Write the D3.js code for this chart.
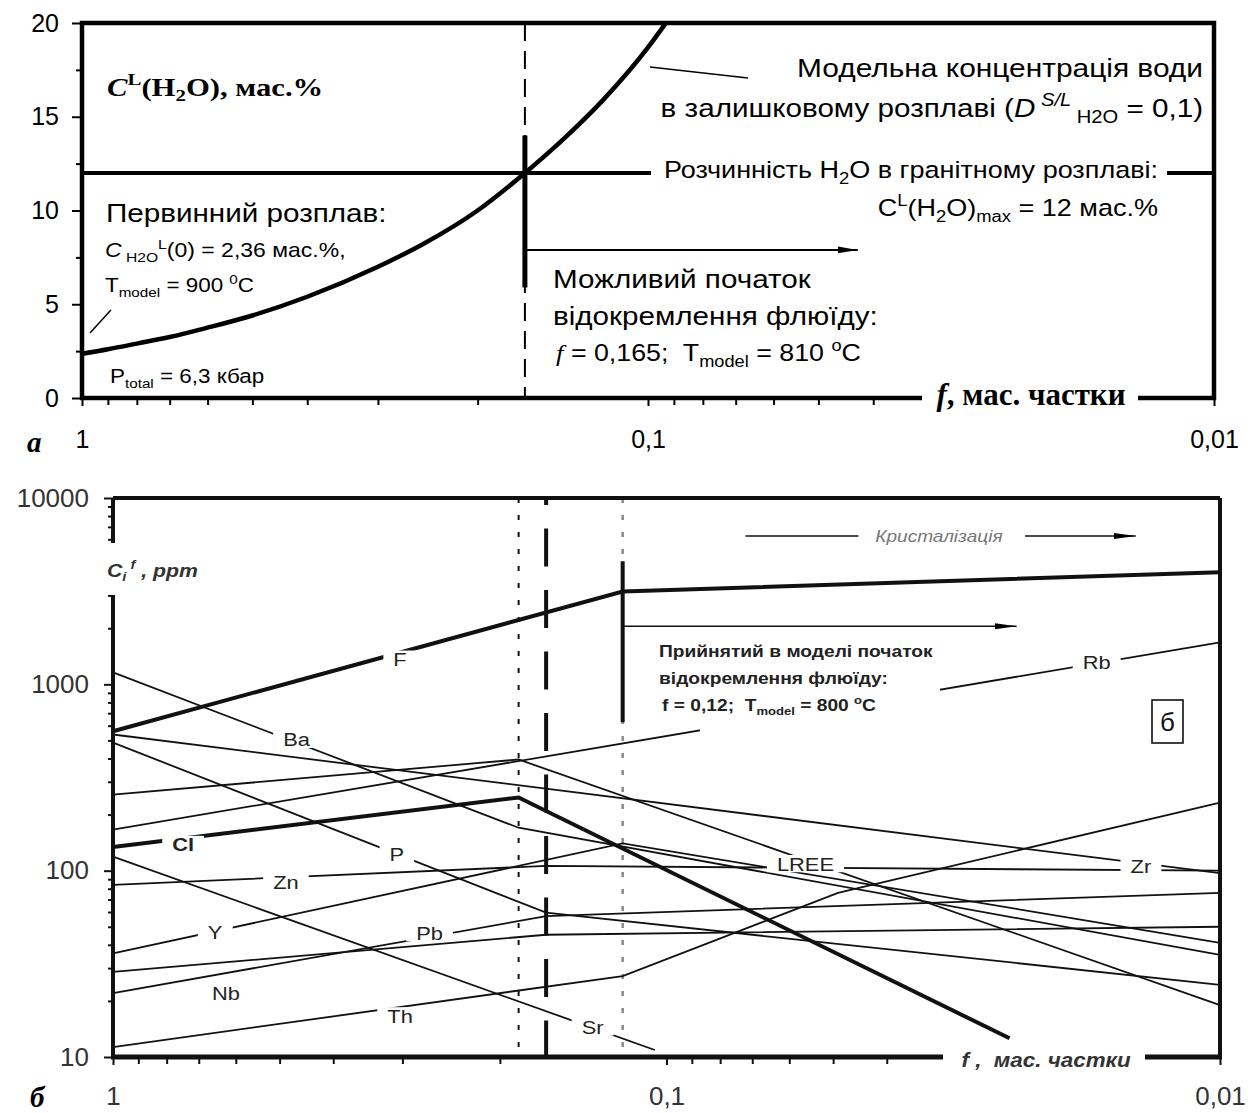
<!DOCTYPE html>
<html><head><meta charset="utf-8">
<script src="https://cdn.jsdelivr.net/npm/d3@7"></script>
<style>
body{margin:0;background:#fff;}
svg{display:block;}
text{white-space:pre;}
</style></head><body>
<svg id="chart" width="1254" height="1113"></svg>
<script>
// ---------- Panel а: water content of the residual melt ----------
const waterF = [1, 0.9, 0.8, 0.7, 0.6, 0.5, 0.4, 0.3, 0.25, 0.2, 0.165, 0.14, 0.12, 0.1, 0.093];
const waterC = [2.36, 2.6, 2.9, 3.25, 3.75, 4.4, 5.4, 7.0, 8.2, 10.0, 12.0, 13.9, 15.9, 18.7, 20.0];
const solubilityH2O = 12;
const onsetA = 0.165;
const waterTicks = [0, 5, 10, 15, 20];
const waterMinor = [2.5, 7.5, 12.5, 17.5];

// shared melt-fraction axis
const fMajor = [1, 0.1, 0.01];
const fLabels = ["1", "0,1", "0,01"];
const fMinor = [0.9, 0.8, 0.7, 0.6, 0.5, 0.4, 0.3, 0.2, 0.09, 0.08, 0.07, 0.06, 0.05, 0.04, 0.03, 0.02];

// ---------- Panel б: element concentrations in the fluid ----------
const lineF    = [[1, 560], [0.12, 3150], [0.01, 4000]];
const lineCl   = [[1, 134], [0.185, 247], [0.024, 12.6]];
const lineBa   = [[1, 1160], [0.185, 170], [0.01, 35.3]];
const lineZr   = [[1, 538], [0.01, 97]];
const lineP    = [[1, 487], [0.165, 59.5], [0.01, 24.4]];
const lineLREE = [[1, 256], [0.185, 395], [0.01, 19]];
const lineRb   = [[1, 166], [0.01, 1680]];
const lineSr   = [[1, 119], [0.105, 10.9]];
const lineZn   = [[1, 84], [0.165, 106], [0.01, 100]];
const lineY    = [[1, 36], [0.12, 140], [0.01, 41]];
const linePb   = [[1, 28.6], [0.165, 45.3], [0.01, 50]];
const lineNb   = [[1, 22], [0.165, 57], [0.01, 76]];
const lineTh   = [[1, 11.3], [0.12, 27.2], [0.049, 76], [0.01, 232]];

const elementNames = ["F", "Cl", "Ba", "Zr", "P", "LREE", "Rb", "Sr", "Zn", "Y", "Pb", "Nb", "Th"];
const elementLines = [lineF, lineCl, lineBa, lineZr, lineP, lineLREE, lineRb, lineSr, lineZn, lineY, linePb, lineNb, lineTh];
const thickElements = ["F", "Cl"];
// label anchors (f, ppm)
const labelText = ["F", "Ba", "Cl", "Zr", "P", "LREE", "Rb", "Sr", "Zn", "Y", "Pb", "Nb", "Th"];
const labelF = [0.303, 0.466, 0.747, 0.0139, 0.307, 0.0561, 0.0167, 0.136, 0.487, 0.654, 0.268, 0.625, 0.303];
const labelC = [1362, 506, 138, 106, 122, 109, 1312, 14.5, 87.3, 47, 46.4, 22, 16.6];

const ppmMajor = [10, 100, 1000, 10000];
const ppmLabels = ["10", "100", "1000", "10000"];
const ppmMinor = [20,30,40,50,60,70,80,90,200,300,400,500,600,700,800,900,2000,3000,4000,5000,6000,7000,8000,9000];
const fOnsetDotted = 0.185, fOnsetDashed = 0.165, fOnsetModel = 0.12;

const svg = d3.select("#chart");
const SANS = "'Liberation Sans', Arial, sans-serif";
const SERIF = "'Liberation Serif', 'Times New Roman', serif";

// text with sub/superscript runs, optionally widened horizontally
function rich(g, x, y, parts, o) {
  const sx = o.sx || 1;
  const t = g.append("text").attr("transform", `translate(${x},${y}) scale(${sx},1)`)
    .attr("font-family", o.family || SANS).attr("font-size", o.size)
    .attr("fill", o.fill || "#000").attr("text-anchor", o.anchor || "start")
    .attr("font-weight", o.weight || "normal").attr("font-style", o.style || "normal");
  parts.forEach(p => {
    const [s, kind] = typeof p === "string" ? [p, ""] : p;
    const k = kind.split(" ");
    const ts = t.append("tspan").text(s);
    if (k.includes("sub")) ts.attr("baseline-shift", -0.22 * o.size).attr("font-size", o.size * 0.68);
    if (k.includes("sup")) ts.attr("baseline-shift", 0.42 * o.size).attr("font-size", o.size * 0.68);
    if (k.includes("i")) ts.attr("font-style", "italic");
    if (k.includes("serif")) ts.attr("font-family", SERIF);
  });
  return t;
}

const defs = svg.append("defs");
defs.append("marker").attr("id", "arrowA").attr("viewBox", "0 0 20 10")
  .attr("refX", 20).attr("refY", 5).attr("markerWidth", 20).attr("markerHeight", 10)
  .attr("markerUnits", "userSpaceOnUse").attr("orient", "auto")
  .append("path").attr("d", "M0,1.5 L20,5 L0,8.5 Z").attr("fill", "#000");
defs.append("marker").attr("id", "arrowB").attr("viewBox", "0 0 22 8")
  .attr("refX", 22).attr("refY", 4).attr("markerWidth", 22).attr("markerHeight", 8)
  .attr("markerUnits", "userSpaceOnUse").attr("orient", "auto")
  .append("path").attr("d", "M0,1 L22,4 L0,7 Z").attr("fill", "#000");

// =============== PANEL а ===============
const xA = d3.scaleLog().domain([1, 0.01]).range([82, 1214]);
const yA = d3.scaleLinear().domain([0, 20]).range([398, 23]);
const gA = svg.append("g");

gA.append("line").attr("x1", xA(onsetA)).attr("x2", xA(onsetA))
  .attr("y1", yA(20)).attr("y2", yA(0))
  .attr("stroke", "#000").attr("stroke-width", 2).attr("stroke-dasharray", "18,10");

gA.append("line").attr("x1", xA(1)).attr("x2", xA(0.01))
  .attr("y1", yA(solubilityH2O)).attr("y2", yA(solubilityH2O))
  .attr("stroke", "#000").attr("stroke-width", 4);

gA.append("line").attr("x1", xA(onsetA)).attr("x2", xA(onsetA))
  .attr("y1", yA(14)).attr("y2", yA(5.9))
  .attr("stroke", "#000").attr("stroke-width", 5);

gA.append("line").attr("x1", xA(onsetA)).attr("x2", xA(0.0426))
  .attr("y1", yA(7.9)).attr("y2", yA(7.9))
  .attr("stroke", "#000").attr("stroke-width", 2).attr("marker-end", "url(#arrowA)");

const waterLine = d3.line().x(d => xA(d[0])).y(d => yA(d[1])).curve(d3.curveMonotoneX);
gA.append("path").datum(waterF.map((f, i) => [f, waterC[i]]))
  .attr("d", waterLine).attr("fill", "none").attr("stroke", "#000").attr("stroke-width", 4.5);

// leader lines
gA.append("line").attr("x1", xA(0.0992)).attr("y1", yA(17.65)).attr("x2", xA(0.0666)).attr("y2", yA(17.07))
  .attr("stroke", "#000").attr("stroke-width", 1.5);
gA.append("line").attr("x1", xA(0.968)).attr("y1", yA(3.47)).attr("x2", xA(0.889)).attr("y2", yA(4.69))
  .attr("stroke", "#000").attr("stroke-width", 1.5);

// frame
gA.append("rect").attr("x", xA(1)).attr("y", yA(20)).attr("width", xA(0.01) - xA(1)).attr("height", yA(0) - yA(20))
  .attr("fill", "none").attr("stroke", "#000").attr("stroke-width", 4.5);

// axes
const axA1 = gA.append("g").attr("transform", `translate(0,${yA(0)})`)
  .call(d3.axisBottom(xA).tickValues(fMinor).tickSize(7).tickFormat(""));
const axA2 = gA.append("g").attr("transform", `translate(0,${yA(0)})`)
  .call(d3.axisBottom(xA).tickValues(fMajor).tickSize(8).tickPadding(24).tickFormat((d, i) => fLabels[i]));
const axA3 = gA.append("g").attr("transform", `translate(${xA(1)},0)`)
  .call(d3.axisLeft(yA).tickValues(waterTicks).tickSize(10).tickPadding(13));
const axA4 = gA.append("g").attr("transform", `translate(${xA(1)},0)`)
  .call(d3.axisLeft(yA).tickValues(waterMinor).tickSize(6).tickFormat(""));
[axA1, axA2, axA3, axA4].forEach(a => {
  a.select(".domain").remove();
  a.selectAll(".tick line").attr("stroke", "#000").attr("stroke-width", 2);
  a.selectAll("text").attr("font-family", SANS).attr("font-size", 25).attr("fill", "#000");
});

// annotations
rich(gA, 107, 96, [["C", "i"], ["L", "sup"], "(H", ["2", "sub"], "O), мас.%"], { family: SERIF, size: 26, weight: "bold", sx: 1.18 });
rich(gA, 1203, 77, ["Модельна концентрація води"], { size: 26, anchor: "end", sx: 1.15 });
rich(gA, 1203, 117, ["в залишковому розплаві (", ["D", "i"], [" S/L", "sup i"], [" H2O", "sub"], " = 0,1)"], { size: 26, anchor: "end", sx: 1.14 });

gA.append("rect").attr("x", 651).attr("y", 156).attr("width", 516).attr("height", 32).attr("fill", "#fff");
rich(gA, 664, 178, ["Розчинність H", ["2", "sub"], "O в гранітному розплаві:"], { size: 23.5, sx: 1.15 });
rich(gA, 1158, 216, ["C", ["L", "sup"], "(H", ["2", "sub"], "O)", ["max", "sub"], " = 12 мас.%"], { size: 23.5, anchor: "end", sx: 1.15 });

rich(gA, 106, 222, ["Первинний розплав:"], { size: 26, sx: 1.14 });
rich(gA, 105, 257, [["C", "i"], [" H2O", "sub"], ["L", "sup"], "(0) = 2,36 мас.%,"], { size: 20, sx: 1.15 });
rich(gA, 105, 292, ["T", ["model", "sub"], " = 900 ", ["0", "sup"], "C"], { size: 19.5, sx: 1.15 });
rich(gA, 110, 383, ["P", ["total", "sub"], " = 6,3 кбар"], { size: 19.5, sx: 1.15 });

rich(gA, 553, 288, ["Можливий початок"], { size: 26, sx: 1.14 });
rich(gA, 553, 325, ["відокремлення флюїду:"], { size: 26, sx: 1.14 });
rich(gA, 556, 361, [["f", "i serif"], " = 0,165;  T", ["model", "sub"], " = 810 ", ["o", "sup"], "C"], { size: 23.5, sx: 1.14 });

gA.append("rect").attr("x", 922).attr("y", 386).attr("width", 216).attr("height", 26).attr("fill", "#fff");
rich(gA, 1031, 405, [["f", "i"], ", мас. частки"], { family: SERIF, size: 31, weight: "bold", anchor: "middle" });
rich(gA, 27, 452, ["а"], { family: SERIF, size: 29, weight: "bold", style: "italic" });

// =============== PANEL б ===============
const xB = d3.scaleLog().domain([1, 0.01]).range([113, 1220]);
const yB = d3.scaleLog().domain([10, 10000]).range([1057, 498]);
const gB = svg.append("g");
const INK = "#111";

// reference verticals
gB.append("line").attr("x1", xB(fOnsetDotted)).attr("x2", xB(fOnsetDotted)).attr("y1", yB(10000)).attr("y2", yB(10))
  .attr("stroke", INK).attr("stroke-width", 2).attr("stroke-dasharray", "5,12");
gB.append("line").attr("x1", xB(fOnsetModel)).attr("x2", xB(fOnsetModel)).attr("y1", yB(10000)).attr("y2", yB(10))
  .attr("stroke", "#8a8a8a").attr("stroke-width", 2.5).attr("stroke-dasharray", "5,12");
gB.append("line").attr("x1", xB(fOnsetDashed)).attr("x2", xB(fOnsetDashed)).attr("y1", yB(10000)).attr("y2", yB(10))
  .attr("stroke", INK).attr("stroke-width", 4).attr("stroke-dasharray", "38,23.5").attr("stroke-dashoffset", 31);

// element lines
const elLine = d3.line().x(d => xB(d[0])).y(d => yB(d[1]));
gB.selectAll("path.el").data(elementLines).join("path").attr("class", "el")
  .attr("d", elLine).attr("fill", "none").attr("stroke", INK)
  .attr("stroke-width", (d, i) => thickElements.includes(elementNames[i]) ? 4 : 1.8);

// white area behind the model-onset note
gB.append("rect").attr("x", 700).attr("y", 636).attr("width", 240).attr("height", 100).attr("fill", "#fff");

// element labels, each cutting a gap in the lines beneath it
const LBL_SX = 1.15;
labelText.forEach((s, i) => {
  const g = gB.append("g").attr("transform", `translate(${xB(labelF[i])},${yB(labelC[i])})`);
  const r = g.append("rect").attr("fill", "#fff");
  const t = g.append("text").attr("transform", `scale(${LBL_SX},1)`).attr("dy", "0.36em")
    .attr("text-anchor", "middle").attr("font-family", SANS).attr("font-size", 19)
    .attr("font-weight", s === "Cl" ? "bold" : "normal").attr("fill", "#222").text(s);
  const b = t.node().getBBox();
  r.attr("x", b.x * LBL_SX - 10).attr("y", b.y + 2).attr("width", b.width * LBL_SX + 20).attr("height", b.height - 4);
});

// model onset marker and arrows
gB.append("line").attr("x1", xB(fOnsetModel)).attr("x2", xB(fOnsetModel)).attr("y1", yB(4580)).attr("y2", yB(625))
  .attr("stroke", INK).attr("stroke-width", 4);
gB.append("line").attr("x1", xB(fOnsetModel)).attr("x2", xB(0.0233)).attr("y1", yB(2050)).attr("y2", yB(2050))
  .attr("stroke", INK).attr("stroke-width", 1.6).attr("marker-end", "url(#arrowB)");
gB.append("line").attr("x1", xB(0.072)).attr("x2", xB(0.045)).attr("y1", yB(6250)).attr("y2", yB(6250))
  .attr("stroke", INK).attr("stroke-width", 1.6);
gB.append("line").attr("x1", xB(0.0225)).attr("x2", xB(0.0142)).attr("y1", yB(6250)).attr("y2", yB(6250))
  .attr("stroke", INK).attr("stroke-width", 1.6).attr("marker-end", "url(#arrowB)");
rich(gB, xB(0.0322), yB(6250) + 6, ["Кристалізація"], { size: 17, style: "italic", fill: "#777", anchor: "middle", sx: 1.12 });

rich(gB, 659, 657, ["Прийнятий в моделі початок"], { size: 17, weight: "bold", fill: "#222", sx: 1.13 });
rich(gB, 659, 684, ["відокремлення флюїду:"], { size: 17, weight: "bold", fill: "#222", sx: 1.13 });
rich(gB, 662, 711, ["f = 0,12;  T", ["model", "sub"], " = 800 ", ["o", "sup"], "C"], { size: 17, weight: "bold", fill: "#222", sx: 1.13 });

gB.append("rect").attr("x", 1152).attr("y", 700).attr("width", 31).attr("height", 43)
  .attr("fill", "#fff").attr("stroke", INK).attr("stroke-width", 1.6);
gB.append("text").attr("x", 1167.5).attr("y", 731).attr("text-anchor", "middle")
  .attr("font-family", SANS).attr("font-size", 26).attr("fill", INK).text("б");

// frame with broken left axis
gB.append("line").attr("x1", 113).attr("x2", 1220).attr("y1", yB(10000)).attr("y2", yB(10000)).attr("stroke", INK).attr("stroke-width", 4);
gB.append("line").attr("x1", 1220).attr("x2", 1220).attr("y1", yB(10000)).attr("y2", yB(10)).attr("stroke", INK).attr("stroke-width", 4);
gB.append("line").attr("x1", 113).attr("x2", 113).attr("y1", yB(10000)).attr("y2", 543).attr("stroke", INK).attr("stroke-width", 4);
gB.append("line").attr("x1", 113).attr("x2", 113).attr("y1", 595).attr("y2", yB(10)).attr("stroke", INK).attr("stroke-width", 4);
gB.append("line").attr("x1", 111).attr("x2", 1222).attr("y1", yB(10)).attr("y2", yB(10)).attr("stroke", INK).attr("stroke-width", 5);

const axB1 = gB.append("g").attr("transform", `translate(0,${yB(10)})`)
  .call(d3.axisBottom(xB).tickValues(fMinor).tickSize(7).tickFormat(""));
const axB2 = gB.append("g").attr("transform", `translate(0,${yB(10)})`)
  .call(d3.axisBottom(xB).tickValues(fMajor).tickSize(8).tickPadding(22).tickFormat((d, i) => fLabels[i]));
const axB3 = gB.append("g").attr("transform", "translate(113,0)")
  .call(d3.axisLeft(yB).tickValues(ppmMajor).tickSize(9).tickPadding(15).tickFormat((d, i) => ppmLabels[i]));
const axB4 = gB.append("g").attr("transform", "translate(113,0)")
  .call(d3.axisLeft(yB).tickValues(ppmMinor.filter(v => yB(v) < 542 || yB(v) > 592)).tickSize(5).tickFormat(""));
[axB1, axB2, axB3, axB4].forEach(a => {
  a.select(".domain").remove();
  a.selectAll(".tick line").attr("stroke", INK).attr("stroke-width", 2);
  a.selectAll("text").attr("font-family", SANS).attr("font-size", 26).attr("fill", "#333");
});

rich(gB, 107, 577, ["C", ["i", "sub"], [" f", "sup"], " , ppm"], { size: 19, weight: "bold", style: "italic", fill: "#333", sx: 1.12 });

gB.append("rect").attr("x", 943).attr("y", 1045).attr("width", 202).attr("height", 26).attr("fill", "#fff");
rich(gB, 1046, 1067, ["f ,  мас. частки"], { size: 20, weight: "bold", style: "italic", fill: "#333", anchor: "middle", sx: 1.12 });
rich(gB, 30, 1107, ["б"], { family: SERIF, size: 29, weight: "bold", style: "italic" });
</script>
</body></html>
